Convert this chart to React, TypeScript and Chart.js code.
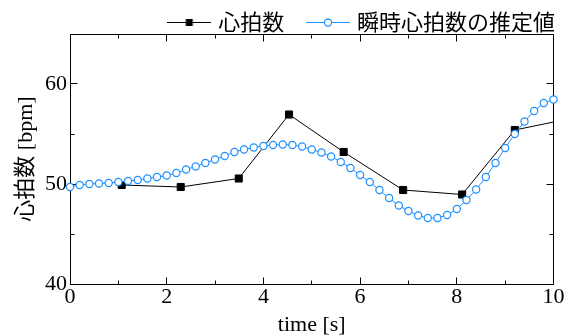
import React, { useEffect, useRef } from 'react';
import { Chart, registerables } from 'chart.js';

Chart.register(...registerables);

// 心拍数 (measured heart rate)
const hrTimes = [1.07, 2.29, 3.49, 4.53, 5.66, 6.89, 8.11, 9.2, 10.4];
const hrValues = [49.9, 49.7, 50.55, 56.95, 53.2, 49.4, 48.95, 55.4, 56.6];

// 瞬時心拍数の推定値 (estimated instantaneous heart rate)
const estTimes = [
  0, 0.2, 0.4, 0.6, 0.8, 1.0, 1.2, 1.4, 1.6, 1.8,
  2.0, 2.2, 2.4, 2.6, 2.8, 3.0, 3.2, 3.4, 3.6, 3.8,
  4.0, 4.2, 4.4, 4.6, 4.8, 5.0, 5.2, 5.4, 5.6, 5.8,
  6.0, 6.2, 6.4, 6.6, 6.8, 7.0, 7.2, 7.4, 7.6, 7.8,
  8.0, 8.2, 8.4, 8.6, 8.8, 9.0, 9.2, 9.4, 9.6, 9.8, 10.0,
];
const estValues = [
  49.7, 49.9, 50.0, 50.05, 50.1, 50.2, 50.3, 50.4, 50.55, 50.7,
  50.85, 51.1, 51.45, 51.75, 52.1, 52.45, 52.8, 53.2, 53.45, 53.65,
  53.8, 53.9, 53.95, 53.9, 53.75, 53.45, 53.15, 52.75, 52.2, 51.6,
  50.9, 50.2, 49.4, 48.6, 47.85, 47.3, 46.85, 46.6, 46.6, 46.9,
  47.5, 48.4, 49.45, 50.7, 52.1, 53.6, 55.0, 56.25, 57.3, 58.1, 58.45,
];

const seriesLabels = ['心拍数', '瞬時心拍数の推定値'];
const xTitle = 'time [s]';
const yTitle = '心拍数 [bpm]';

const X_MIN = 0;
const X_MAX = 10;
const X_STEP = 2;
const Y_MIN = 40;
const Y_MAX = 65;
const Y_STEP = 10;

const BLUE = '#1e90ff';
const SERIF = "'Liberation Serif', 'Noto Sans CJK JP', serif";
const CJK = "'Noto Sans CJK JP', sans-serif";

function makeIcon(kind: 'rect' | 'circle'): HTMLCanvasElement {
  const c = document.createElement('canvas');
  c.width = 44;
  c.height = 12;
  const g = c.getContext('2d')!;
  const color = kind === 'rect' ? '#000' : BLUE;
  g.strokeStyle = color;
  g.lineWidth = 1;
  g.beginPath();
  g.moveTo(0, 6.5);
  g.lineTo(44, 6.5);
  g.stroke();
  if (kind === 'rect') {
    g.fillStyle = '#000';
    g.fillRect(18.5, 3, 7, 7);
  } else {
    g.fillStyle = '#fff';
    g.lineWidth = 1.2;
    g.beginPath();
    g.arc(22, 6.5, 3.6, 0, Math.PI * 2);
    g.fill();
    g.stroke();
  }
  return c;
}

const framePlugin = {
  id: 'frameTicks',
  beforeDatasetsDraw(chart: any) {
    const { ctx, chartArea } = chart;
    const xs = chart.scales.x;
    const ys = chart.scales.y;
    const px = (v: number) => Math.floor(v) + 0.5;
    const L = px(chartArea.left);
    const R = px(chartArea.right);
    const T = px(chartArea.top);
    const B = px(chartArea.bottom);
    ctx.save();
    ctx.strokeStyle = '#000';
    ctx.lineWidth = 1;
    ctx.beginPath();
    ctx.moveTo(L, T);
    ctx.lineTo(R, T);
    ctx.lineTo(R, B);
    ctx.lineTo(L, B);
    ctx.closePath();
    ctx.stroke();

    const major = 7;
    const minor = 4;
    const xv: number[] = xs.ticks.map((t: any) => t.value);
    const yv: number[] = ys.ticks.map((t: any) => t.value);
    const xMinor: number[] = [];
    for (let i = 0; i < xv.length - 1; i++) xMinor.push((xv[i] + xv[i + 1]) / 2);
    const yMinor: number[] = [];
    for (let i = 0; i < yv.length - 1; i++) yMinor.push((yv[i] + yv[i + 1]) / 2);

    ctx.beginPath();
    const xTick = (v: number, len: number) => {
      const p = px(xs.getPixelForValue(v));
      ctx.moveTo(p, B);
      ctx.lineTo(p, B - len);
      ctx.moveTo(p, T);
      ctx.lineTo(p, T + len);
    };
    const yTick = (v: number, len: number) => {
      const p = px(ys.getPixelForValue(v));
      ctx.moveTo(L, p);
      ctx.lineTo(L + len, p);
      ctx.moveTo(R, p);
      ctx.lineTo(R - len, p);
    };
    xv.forEach((v) => xTick(v, major));
    xMinor.forEach((v) => xTick(v, minor));
    yv.forEach((v) => yTick(v, major));
    yMinor.forEach((v) => yTick(v, minor));
    ctx.stroke();
    ctx.restore();
  },
};

export default function App() {
  const ref = useRef<HTMLCanvasElement | null>(null);

  useEffect(() => {
    if (!ref.current) return;
    const icons = [makeIcon('rect'), makeIcon('circle')];
    const chart = new Chart(ref.current, {
      type: 'line',
      data: {
        datasets: [
          {
            label: seriesLabels[0],
            data: hrTimes.map((t, i) => ({ x: t, y: hrValues[i] })),
            borderColor: '#000',
            backgroundColor: '#000',
            borderWidth: 1,
            pointStyle: 'rect',
            pointRadius: 5,
            pointBackgroundColor: '#000',
            pointBorderColor: '#000',
            pointBorderWidth: 1,
            tension: 0,
            order: 2,
          },
          {
            label: seriesLabels[1],
            data: estTimes.map((t, i) => ({ x: t, y: estValues[i] })),
            borderColor: BLUE,
            backgroundColor: '#fff',
            borderWidth: 1,
            pointStyle: 'circle',
            pointRadius: 3.6,
            pointBackgroundColor: '#fff',
            pointBorderColor: BLUE,
            pointBorderWidth: 1.2,
            tension: 0,
            clip: false as any,
            order: 1,
          },
        ],
      },
      options: {
        animation: false,
        responsive: false,
        events: [],
        layout: { padding: 0 },
        plugins: {
          tooltip: { enabled: false },
          legend: {
            display: true,
            position: 'top',
            align: 'end',
            maxHeight: 34,
            labels: {
              usePointStyle: true,
              pointStyleWidth: 36,
              padding: 11,
              color: '#000',
              font: { family: CJK, size: 22 },
              generateLabels: (c: any) => {
                const items = (Chart.defaults.plugins.legend.labels.generateLabels as any)(c);
                items.sort((a: any, b: any) => a.datasetIndex - b.datasetIndex);
                items.forEach((it: any) => {
                  it.pointStyle = icons[it.datasetIndex];
                  if (it.datasetIndex === 0) it.text = it.text + '   ';
                });
                return items;
              },
            },
          },
        },
        scales: {
          x: {
            type: 'linear',
            min: X_MIN,
            max: X_MAX,
            grid: { display: false, drawTicks: false },
            border: { display: false },
            ticks: {
              stepSize: X_STEP,
              padding: 0,
              color: '#000',
              maxRotation: 0,
              font: { family: SERIF, size: 22 },
              callback: (v: any) => String(v),
            },
            title: {
              display: true,
              text: xTitle,
              color: '#000',
              font: { family: SERIF, size: 22, lineHeight: 1 },
              padding: { top: 0, bottom: 0 },
            },
            afterFit: (s: any) => {
              s.height = 52;
            },
          },
          y: {
            type: 'linear',
            position: 'left',
            min: Y_MIN,
            max: Y_MAX,
            grid: { display: false, drawTicks: false },
            border: { display: false },
            ticks: {
              stepSize: Y_STEP,
              includeBounds: false,
              padding: 3,
              color: '#000',
              font: { family: SERIF, size: 22 },
              callback: (v: any) => String(v),
            },
            title: {
              display: true,
              text: yTitle,
              color: '#000',
              font: { family: SERIF, size: 22 },
              padding: { top: 13, bottom: 0 },
            },
            afterFit: (s: any) => {
              s.width = 70;
            },
          },
          y2: {
            type: 'linear',
            position: 'right',
            min: Y_MIN,
            max: Y_MAX,
            display: true,
            grid: { display: false, drawTicks: false },
            border: { display: false },
            ticks: { display: false },
            afterFit: (s: any) => {
              s.width = 12.5;
            },
          },
        },
      },
      plugins: [framePlugin],
    } as any);
    return () => chart.destroy();
  }, []);

  return (
    <div style={{ position: 'fixed', left: 0, top: 0, width: 566, height: 336, background: '#fff' }}>
      <canvas ref={ref} width={566} height={336} style={{ display: 'block' }} />
    </div>
  );
}
